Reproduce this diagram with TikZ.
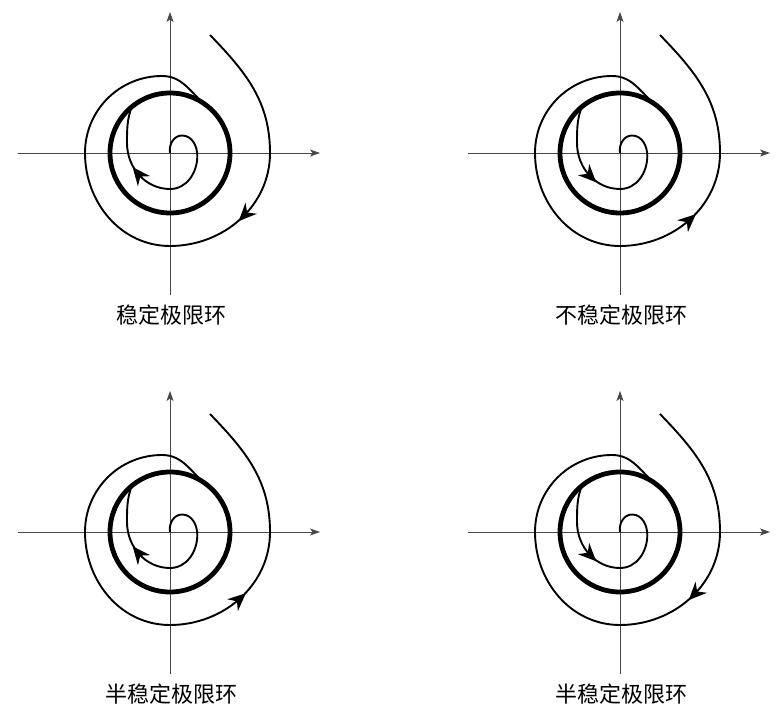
\documentclass[tikz,border=0pt]{standalone}
\usepackage{fontspec}
\newfontfamily\cjk{Noto Sans CJK SC}
\usetikzlibrary{arrows.meta,decorations.markings}
\tikzset{
  axisline/.style={draw=black!72, line width=0.9pt, -{Stealth[length=10pt,width=7pt,inset=2.5pt]}},
  traj/.style={draw=black, line width=1.9pt},
  limitcycle/.style={draw=black, line width=4.8pt},
  fwdarrow/.style={postaction={decorate,decoration={markings,mark=at position #1 with {\fill[black] (8,0) -- (-10,8) -- (-4,0) -- (-10,-8) -- cycle;}}}},
  bwdarrow/.style={postaction={decorate,decoration={markings,mark=at position #1 with {\fill[black] (-8,0) -- (10,8) -- (4,0) -- (10,-8) -- cycle;}}}},
  caption/.style={font=\cjk\fontsize{22}{22}\selectfont, inner sep=0pt}
}
\newcommand\limitpanel[6]{%
  \begin{scope}[shift={(#1,#2)}]
    \draw[axisline] (-152,0) -- (150,0);
    \draw[axisline] (0,-142) -- (0,141);
    \draw[traj,#3] (40,118) to[out=-46,in=90] (100,0) to[out=-90,in=0] (0,-93)
      to[out=180,in=-90] (-85,0) to[out=90,in=180] (-8,77) to[out=0,in=142] (37,47);
    \draw[traj,#4] (0,0) to[out=100,in=180] (12,17.5) to[out=0,in=90] (27.3,-3)
      to[out=-90,in=0] (0,-36) to[out=180,in=-90] (-43,10) to[out=90,in=-110] (-38,47);
    \draw[limitcycle] (0,0) circle[radius=60];
  \end{scope}
  \node[caption] (#5) at (#1+1,#2-162) {#6};
}
\begin{document}
\begin{tikzpicture}[x=1pt,y=1pt]
  \useasboundingbox (0,0) rectangle (783,725);
  \limitpanel{170}{572}{fwdarrow=0.34}{fwdarrow=0.66}{cap1}{稳定极限环}
  \limitpanel{620}{572}{bwdarrow=0.35}{bwdarrow=0.64}{cap2}{不稳定极限环}
  \limitpanel{170}{193}{bwdarrow=0.35}{fwdarrow=0.66}{cap3}{半稳定极限环}
  \limitpanel{620}{193}{fwdarrow=0.34}{bwdarrow=0.64}{cap4}{半稳定极限环}
\end{tikzpicture}
\end{document}
